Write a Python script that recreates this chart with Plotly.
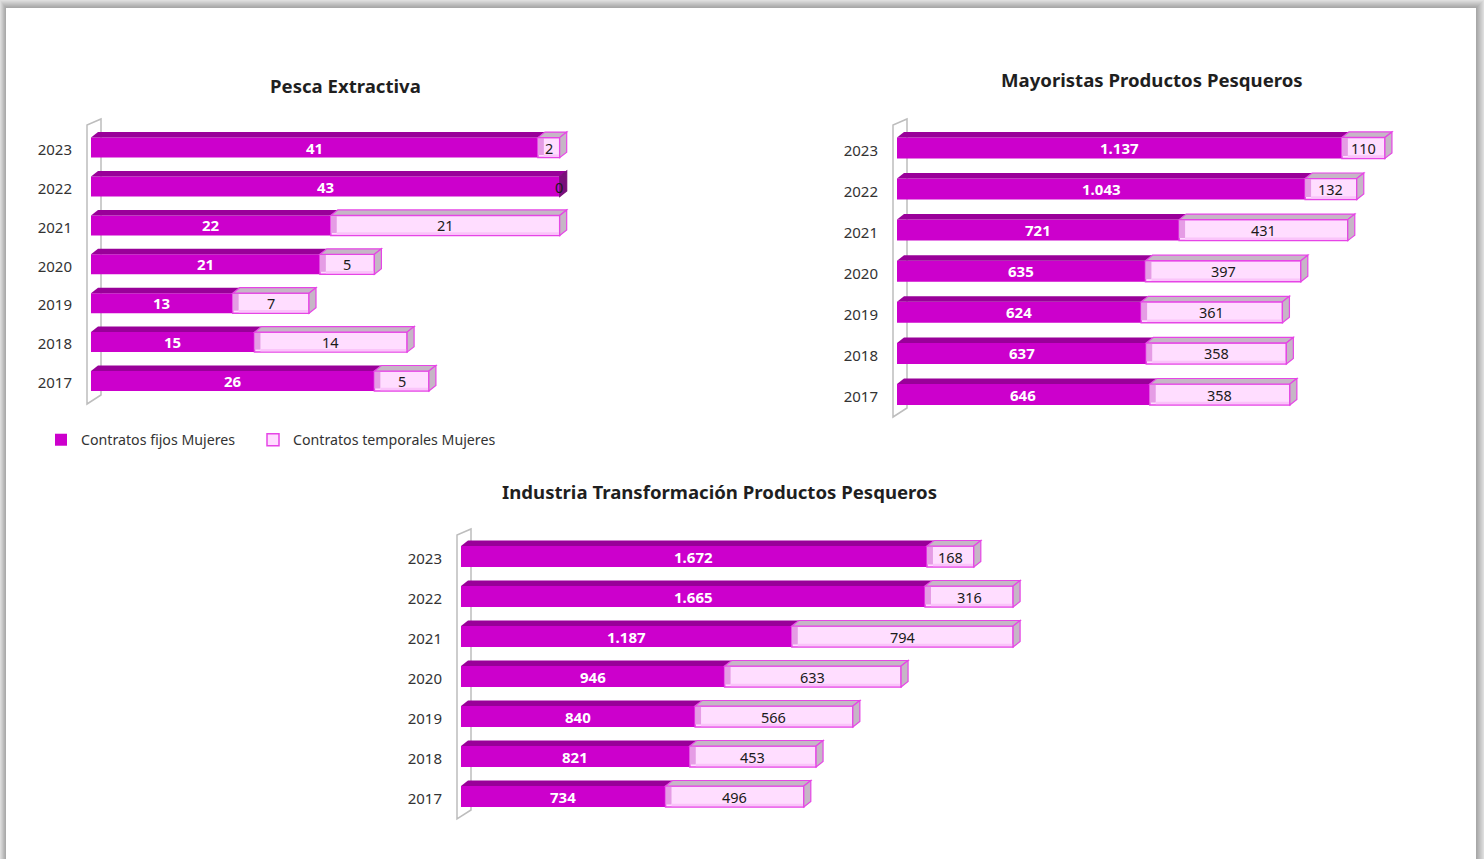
import plotly.graph_objects as go

W, H = 1484, 859

years = ["2017", "2018", "2019", "2020", "2021", "2022", "2023"]

titles = ["Pesca Extractiva", "Mayoristas Productos Pesqueros", "Industria Transformación Productos Pesqueros"]

pesca_fijos = [26, 15, 13, 21, 22, 43, 41]
pesca_temporales = [5, 14, 7, 5, 21, 0, 2]

mayoristas_fijos = [646, 637, 624, 635, 721, 1043, 1137]
mayoristas_temporales = [358, 358, 361, 397, 431, 132, 110]

industria_fijos = [734, 821, 840, 946, 1187, 1665, 1672]
industria_temporales = [496, 453, 566, 633, 794, 316, 168]

series_names = ["Contratos fijos Mujeres", "Contratos temporales Mujeres"]

FONT = "Noto Sans"
C_FIX = "#CC00CC"
C_FIX_TOP = "#990099"
C_FIX_SIDE = "#7A0F7A"
C_TMP = "#FFDDFF"
C_TMP_LINE = "#E645E6"
C_TMP_BAND = "#E59CE5"
C_TMP_LOW = "#FAC4FA"
C_TMP_FACE = "#C6B6C6"
C_WALL = "#BDBDBD"

panels = [
    dict(fix=pesca_fijos, tmp=pesca_temporales, title=titles[0], title_xy=(345, 85),
         x0=91, px_per=10.9, tick_2017=383, step=38.9, shift=2.0, bar_h=20, right=590,
         wall_top=125, wall_bot=404),
    dict(fix=mayoristas_fijos, tmp=mayoristas_temporales, title=titles[1], title_xy=(1152, 80),
         x0=897, px_per=0.3913, tick_2017=397, step=41.1, shift=2.5, bar_h=21, right=1420,
         wall_top=125, wall_bot=417),
    dict(fix=industria_fijos, tmp=industria_temporales, title=titles[2], title_xy=(719, 491),
         x0=461, px_per=0.2787, tick_2017=799, step=40.0, shift=2.5, bar_h=21, right=1050,
         wall_top=535, wall_bot=819),
]

DX, DY = 7.0, 5.5
LEFT_PAD = 12
Y_MIN, Y_MAX = -0.95, 6.95


def xp(px):
    return px / W


def yp(py):
    return 1 - py / H


def poly(points):
    return "M" + " L".join(f"{a},{b}" for a, b in points) + " Z"


fig = go.Figure()
layout = {}
shapes = []
annotations = []

# page frame with soft shadow: lighter outside, darker next to the white page
for i, grey in enumerate(["#DEDEDE", "#D6D6D6", "#CECECE", "#C6C6C6", "#BEBEBE", "#B6B6B6", "#AEAEAE", "#A8A8A8"]):
    shapes.append(dict(type="rect", xref="paper", yref="paper", layer="below",
                       x0=xp(i * 0.75), x1=xp(W - i), y0=0, y1=yp(i),
                       fillcolor=grey, line_width=0))
shapes.append(dict(type="rect", xref="paper", yref="paper", layer="below",
                   x0=xp(6), x1=xp(1476), y0=0, y1=yp(8), fillcolor="white", line_width=0))

for n, p in enumerate(panels):
    sfx = "" if n == 0 else str(n + 1)
    xa, ya = "x" + sfx, "y" + sfx
    s = p["step"]
    k = p["px_per"]
    w = p["bar_h"] / s
    dx = DX / k
    dy = DY / s
    sh = p["shift"] / s
    cats = list(range(len(years)))

    left_px = p["x0"] - LEFT_PAD
    top_px = p["tick_2017"] - Y_MAX * s
    bot_px = p["tick_2017"] - Y_MIN * s

    layout["xaxis" + sfx] = dict(domain=[xp(left_px), xp(p["right"])],
                                 range=[-LEFT_PAD / k, (p["right"] - p["x0"]) / k],
                                 visible=False, anchor=ya, fixedrange=True)
    layout["yaxis" + sfx] = dict(domain=[yp(bot_px), yp(top_px)], range=[Y_MIN, Y_MAX],
                                 tickmode="array", tickvals=cats, ticktext=years,
                                 ticks="", showline=False, showgrid=False, zeroline=False,
                                 ticklabelstandoff=6, anchor=xa, fixedrange=True,
                                 tickfont=dict(family=FONT, size=15, color="#333333"))

    fig.add_trace(go.Bar(y=cats, x=p["fix"], orientation="h", width=w, offset=-w / 2 + sh,
                         marker=dict(color=C_FIX, line_width=0), name=series_names[0],
                         showlegend=n == 0, legend="legend", xaxis=xa, yaxis=ya, hoverinfo="x+name"))
    fig.add_trace(go.Bar(y=cats, x=p["tmp"], base=p["fix"], orientation="h", width=w, offset=-w / 2 + sh,
                         marker=dict(color=C_TMP, line=dict(color=C_TMP_LINE, width=1.5)),
                         name=series_names[1], showlegend=n == 0, legend="legend2",
                         xaxis=xa, yaxis=ya, hoverinfo="x+name"))

    # back wall, behind the bars
    wx0, wx1 = -4 / k, 10 / k
    wt = (p["tick_2017"] - p["wall_top"]) / s
    wb = (p["tick_2017"] - p["wall_bot"]) / s
    shapes.append(dict(type="path", xref=xa, yref=ya, layer="below",
                       path=poly([(wx0, wb), (wx0, wt), (wx1, wt + 6 / s), (wx1, wb + 9 / s)]),
                       fillcolor="white", line=dict(color=C_WALL, width=1.5)))

    # 3D faces derived from the values
    for c, f, t in zip(cats, p["fix"], p["tmp"]):
        top = c + sh + w / 2
        bot = c + sh - w / 2
        end = f + t
        shapes.append(dict(type="path", xref=xa, yref=ya, layer="above",
                           path=poly([(0, top), (dx, top + dy), (f + dx, top + dy), (f, top)]),
                           fillcolor=C_FIX_TOP, line_width=0))
        if t > 0:
            shapes.append(dict(type="path", xref=xa, yref=ya, layer="above",
                               path=poly([(f, bot + 2.5 / s), (f + dx * 0.85, bot + 2.5 / s),
                                          (f + dx * 0.85, top - 0.5 / s), (f, top - 0.5 / s)]),
                               fillcolor=C_TMP_BAND, line_width=0))
            shapes.append(dict(type="path", xref=xa, yref=ya, layer="above",
                               path=poly([(f + dx * 0.85, bot + 0.7 / s), (end - 0.7 / k, bot + 0.7 / s),
                                          (end - 0.7 / k, bot + 3.2 / s), (f + dx * 0.85, bot + 3.2 / s)]),
                               fillcolor=C_TMP_LOW, line_width=0))
            shapes.append(dict(type="path", xref=xa, yref=ya, layer="above",
                               path=poly([(f, top), (f + dx, top + dy), (end + dx, top + dy), (end, top)]),
                               fillcolor=C_TMP_FACE, line=dict(color=C_TMP_LINE, width=1.2)))
        shapes.append(dict(type="path", xref=xa, yref=ya, layer="above",
                           path=poly([(end, bot), (end + dx, bot + dy), (end + dx, top + dy), (end, top)]),
                           fillcolor=C_TMP_FACE if t > 0 else C_FIX_SIDE,
                           line=dict(color=C_TMP_LINE if t > 0 else C_FIX_SIDE, width=1.2)))
        label_y = c + sh
        annotations.append(dict(xref=xa, yref=ya, x=f / 2, y=label_y, text=f"<b>{f:,}</b>".replace(",", "."),
                                showarrow=False, xanchor="center", yanchor="middle",
                                font=dict(family=FONT, size=15, color="white")))
        tx = f + t / 2 if t > 0 else f - 1 / k
        annotations.append(dict(xref=xa, yref=ya, x=tx, y=label_y, text=f"{t:,}".replace(",", "."),
                                showarrow=False, xanchor="center", yanchor="middle",
                                font=dict(family=FONT, size=14.5, color="#1a1a1a")))

    annotations.append(dict(xref="paper", yref="paper", x=xp(p["title_xy"][0]), y=yp(p["title_xy"][1]),
                            text=f"<b>{p['title']}</b>", showarrow=False, xanchor="center", yanchor="middle",
                            font=dict(family=FONT, size=18.6, color="#1f1f1f")))

legend_common = dict(orientation="h", xref="paper", yref="paper", y=yp(440), xanchor="left", yanchor="middle",
                     bgcolor="rgba(0,0,0,0)", itemclick=False, itemdoubleclick=False,
                     font=dict(family=FONT, size=14.2, color="#333333"))

fig.update_layout(
    width=W, height=H, margin=dict(l=0, r=0, t=0, b=0, pad=0),
    paper_bgcolor="white", plot_bgcolor="rgba(0,0,0,0)",
    barmode="overlay", shapes=shapes, annotations=annotations,
    legend=dict(x=xp(41), **legend_common),
    legend2=dict(x=xp(253), **legend_common),
    **layout,
)

fig.write_html("out.html", post_script="document.body.style.margin='0';document.documentElement.style.overflow='hidden';",
               config={"displayModeBar": False})
